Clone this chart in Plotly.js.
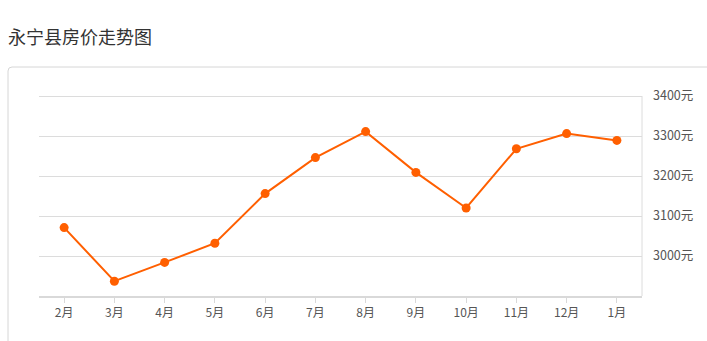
<!DOCTYPE html>
<html>
<head>
<meta charset="utf-8">
<script src="https://cdn.plot.ly/plotly-3.0.1.min.js"></script>
<style>
html,body{margin:0;padding:0;background:#fff;}
#chart{width:707px;height:341px;}
</style>
</head>
<body>
<div id="chart"></div>
<script>
const months = ["2月","3月","4月","5月","6月","7月","8月","9月","10月","11月","12月","1月"];
const prices = [3071, 2937, 2984, 3032, 3156, 3246, 3311, 3209, 3120, 3268, 3306, 3289];
const yTickVals = [3000, 3100, 3200, 3300, 3400];
const yTickText = ["3000元", "3100元", "3200元", "3300元", "3400元"];
const chartTitle = "永宁县房价走势图";

const W = 707, H = 341;
const mL = 39, mR = 65, mT = 92, mB = 45;
const pw = W - mL - mR, ph = H - mT - mB;
const px = x => (x - mL) / pw;
const py = y => (H - mB - y) / ph;

const font = '"Noto Sans CJK SC", "Microsoft YaHei", sans-serif';

// rounded panel border (decoration)
const r = 4;
const boxPath = `M ${px(8)} ${py(360)} L ${px(8)} ${py(67 + r)} Q ${px(8)} ${py(67)} ${px(8 + r)} ${py(67)} L ${px(720)} ${py(67)}`;
// y axis line on the right, from the top gridline down to the x axis (decoration)
const yLinePath = `M ${px(642)} ${py(96)} L ${px(642)} ${py(296)}`;

const trace = {
  type: 'scatter',
  mode: 'lines+markers',
  x: months,
  y: prices,
  line: {color: '#ff5f00', width: 2},
  marker: {color: '#ff5f00', size: 9},
  hoverinfo: 'x+y',
  cliponaxis: false
};

const layout = {
  width: W, height: H,
  margin: {l: mL, r: mR, t: mT, b: mB, pad: 0},
  paper_bgcolor: '#fff',
  plot_bgcolor: '#fff',
  showlegend: false,
  title: {
    text: chartTitle,
    font: {family: font, size: 18, color: '#333'},
    x: 8 / W, xref: 'container', xanchor: 'left',
    y: 1 - 38 / H, yref: 'container', yanchor: 'middle'
  },
  xaxis: {
    type: 'category',
    range: [-0.5, 11.5],
    showgrid: false,
    zeroline: false,
    showline: true,
    linecolor: '#d9d9d9',
    linewidth: 2,
    ticks: 'outside',
    ticklen: 5,
    tickcolor: '#d9d9d9',
    tickwidth: 1,
    tickfont: {family: font, size: 12, color: '#555'}
  },
  yaxis: {
    side: 'right',
    range: [2900, 3410],
    tickvals: yTickVals,
    ticktext: yTickText,
    showgrid: true,
    gridcolor: '#dcdcdc',
    gridwidth: 1,
    zeroline: false,
    showline: false,
    ticks: '',
    ticklabelstandoff: 10,
    tickfont: {family: font, size: 12.5, color: '#555'}
  },
  shapes: [{
    type: 'path', xref: 'paper', yref: 'paper',
    path: boxPath,
    line: {color: '#d6d6d6', width: 1},
    layer: 'below'
  }, {
    type: 'path', xref: 'paper', yref: 'paper',
    path: yLinePath,
    line: {color: '#dcdcdc', width: 1},
    layer: 'below'
  }]
};

Plotly.newPlot('chart', [trace], layout, {displayModeBar: false, staticPlot: true});
</script>
</body>
</html>
